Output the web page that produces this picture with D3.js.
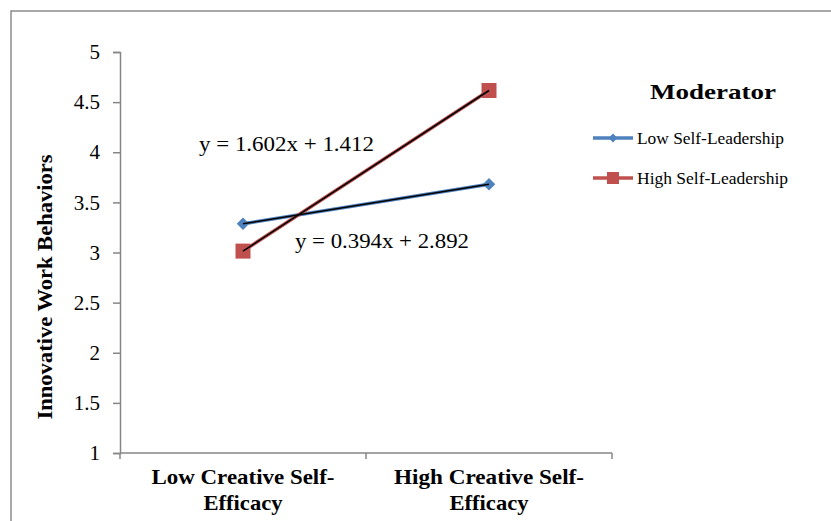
<!DOCTYPE html>
<html>
<head>
<meta charset="utf-8">
<script src="https://cdn.jsdelivr.net/npm/d3@7"></script>
<style>
  html, body { margin: 0; padding: 0; background: #fff; }
  svg { display: block; }
  text { font-family: "Liberation Serif", "Times New Roman", serif; fill: #000; }
</style>
</head>
<body>
<svg id="chart" width="831" height="521"></svg>
<script>
// Interaction plot: creative self-efficacy x self-leadership
const categories = ["Low Creative Self-Efficacy", "High Creative Self-Efficacy"];
const categoryLines = [["Low Creative Self-", "Efficacy"], ["High Creative Self-", "Efficacy"]];
const seriesNames = ["Low Self-Leadership", "High Self-Leadership"];
const lowSelfLeadership = [3.286, 3.680];
const highSelfLeadership = [3.014, 4.616];
const trendEquations = ["y = 0.394x + 2.892", "y = 1.602x + 1.412"];
const yTicks = [1, 1.5, 2, 2.5, 3, 3.5, 4, 4.5, 5];

const seriesColors = ["#4f81bd", "#c0504d"];
const markerFills = ["#4f81bd", "#c0504d"];
const SERIF = "Liberation Serif, Times New Roman, serif";

const svg = d3.select("#chart");

// outer frame
svg.append("rect")
  .attr("x", 11).attr("y", 11)
  .attr("width", 840).attr("height", 540)
  .attr("fill", "none").attr("stroke", "#8c8c8c").attr("stroke-width", 1.5);

const plot = { left: 120, right: 612, top: 52, bottom: 453 };

const x = d3.scaleBand().domain(categories).range([plot.left, plot.right]);
const y = d3.scaleLinear().domain([1, 5]).range([plot.bottom, plot.top]);

// y axis
const yAxis = svg.append("g")
  .attr("transform", `translate(${plot.left},0)`)
  .call(d3.axisLeft(y).tickValues(yTicks).tickSize(7).tickPadding(13)
    .tickFormat(d => String(d)));
yAxis.attr("font-family", SERIF).attr("font-size", 21);
yAxis.select(".domain").attr("stroke", "#868686").attr("stroke-width", 1.5);
yAxis.selectAll(".tick line").attr("stroke", "#868686").attr("stroke-width", 1.5);
yAxis.selectAll(".tick text").attr("fill", "#000");

// x axis with tick marks at category boundaries
const xAxisG = svg.append("g").attr("transform", `translate(0,${plot.bottom})`);
xAxisG.append("line")
  .attr("x1", plot.left).attr("x2", plot.right)
  .attr("stroke", "#868686").attr("stroke-width", 1.5);
const boundaries = [plot.left].concat(categories.map(c => x(c) + x.bandwidth()));
xAxisG.selectAll("line.tick").data(boundaries).join("line")
  .attr("class", "tick")
  .attr("x1", d => d).attr("x2", d => d)
  .attr("y1", 0).attr("y2", 6)
  .attr("stroke", "#868686").attr("stroke-width", 1.5);

// category labels, two lines each
const lineWidths = [[183, 79], [190, 79]];
categories.forEach((c, i) => {
  categoryLines[i].forEach((ln, j) => {
    svg.append("text")
      .attr("text-anchor", "middle")
      .attr("font-weight", "bold")
      .attr("font-size", 21)
      .attr("x", x(c) + x.bandwidth() / 2)
      .attr("y", 484 + j * 26)
      .attr("textLength", lineWidths[i][j])
      .attr("lengthAdjust", "spacingAndGlyphs")
      .text(ln);
  });
});

// y axis title
svg.append("text")
  .attr("transform", "translate(52,287) rotate(-90)")
  .attr("text-anchor", "middle")
  .attr("font-weight", "bold")
  .attr("font-size", 20)
  .attr("textLength", 265)
  .attr("lengthAdjust", "spacingAndGlyphs")
  .text("Innovative Work Behaviors");

// series lines
const allSeries = [lowSelfLeadership, highSelfLeadership];
const line = d3.line()
  .x((d, i) => x(categories[i]) + x.bandwidth() / 2)
  .y(d => y(d));

allSeries.forEach((vals, s) => {
  svg.append("path")
    .attr("d", line(vals))
    .attr("fill", "none")
    .attr("stroke", seriesColors[s])
    .attr("stroke-width", 3.5);
});

// markers
const cx = i => x(categories[i]) + x.bandwidth() / 2;
svg.append("g").selectAll("path").data(lowSelfLeadership).join("path")
  .attr("d", d3.symbol(d3.symbolDiamond2, 100)())
  .attr("transform", (d, i) => `translate(${cx(i)},${y(d)})`)
  .attr("fill", markerFills[0]);
svg.append("g").selectAll("rect").data(highSelfLeadership).join("rect")
  .attr("x", (d, i) => cx(i) - 7.5)
  .attr("y", d => y(d) - 7.5)
  .attr("width", 15).attr("height", 15)
  .attr("fill", markerFills[1]);

// linear trendlines
allSeries.forEach(vals => {
  svg.append("path")
    .attr("d", line(vals))
    .attr("fill", "none")
    .attr("stroke", "#000")
    .attr("stroke-width", 1.6);
});

// trendline equations
svg.append("text").attr("x", 199).attr("y", 151)
  .attr("font-size", 20)
  .attr("textLength", 175).attr("lengthAdjust", "spacingAndGlyphs")
  .text(trendEquations[1]);
svg.append("text").attr("x", 295).attr("y", 248)
  .attr("font-size", 20)
  .attr("textLength", 174).attr("lengthAdjust", "spacingAndGlyphs")
  .text(trendEquations[0]);

// legend
svg.append("text")
  .attr("x", 650).attr("y", 99)
  .attr("font-weight", "bold").attr("font-size", 22)
  .attr("textLength", 126).attr("lengthAdjust", "spacingAndGlyphs")
  .text("Moderator");

const legendY = [138, 178];
const legendWidths = [147, 151];
seriesNames.forEach((name, s) => {
  const g = svg.append("g");
  g.append("line")
    .attr("x1", 593).attr("x2", 633)
    .attr("y1", legendY[s]).attr("y2", legendY[s])
    .attr("stroke", seriesColors[s]).attr("stroke-width", 3.5);
  if (s === 0) {
    g.append("path")
      .attr("d", d3.symbol(d3.symbolDiamond2, 50)())
      .attr("transform", `translate(613,${legendY[s]})`)
      .attr("fill", markerFills[s]);
  } else {
    g.append("rect")
      .attr("x", 607).attr("y", legendY[s] - 6)
      .attr("width", 12).attr("height", 12)
      .attr("fill", markerFills[s]);
  }
  g.append("text")
    .attr("x", 637).attr("y", legendY[s] + 6)
    .attr("font-size", 16)
    .attr("textLength", legendWidths[s]).attr("lengthAdjust", "spacingAndGlyphs")
    .text(name);
});
</script>
</body>
</html>
